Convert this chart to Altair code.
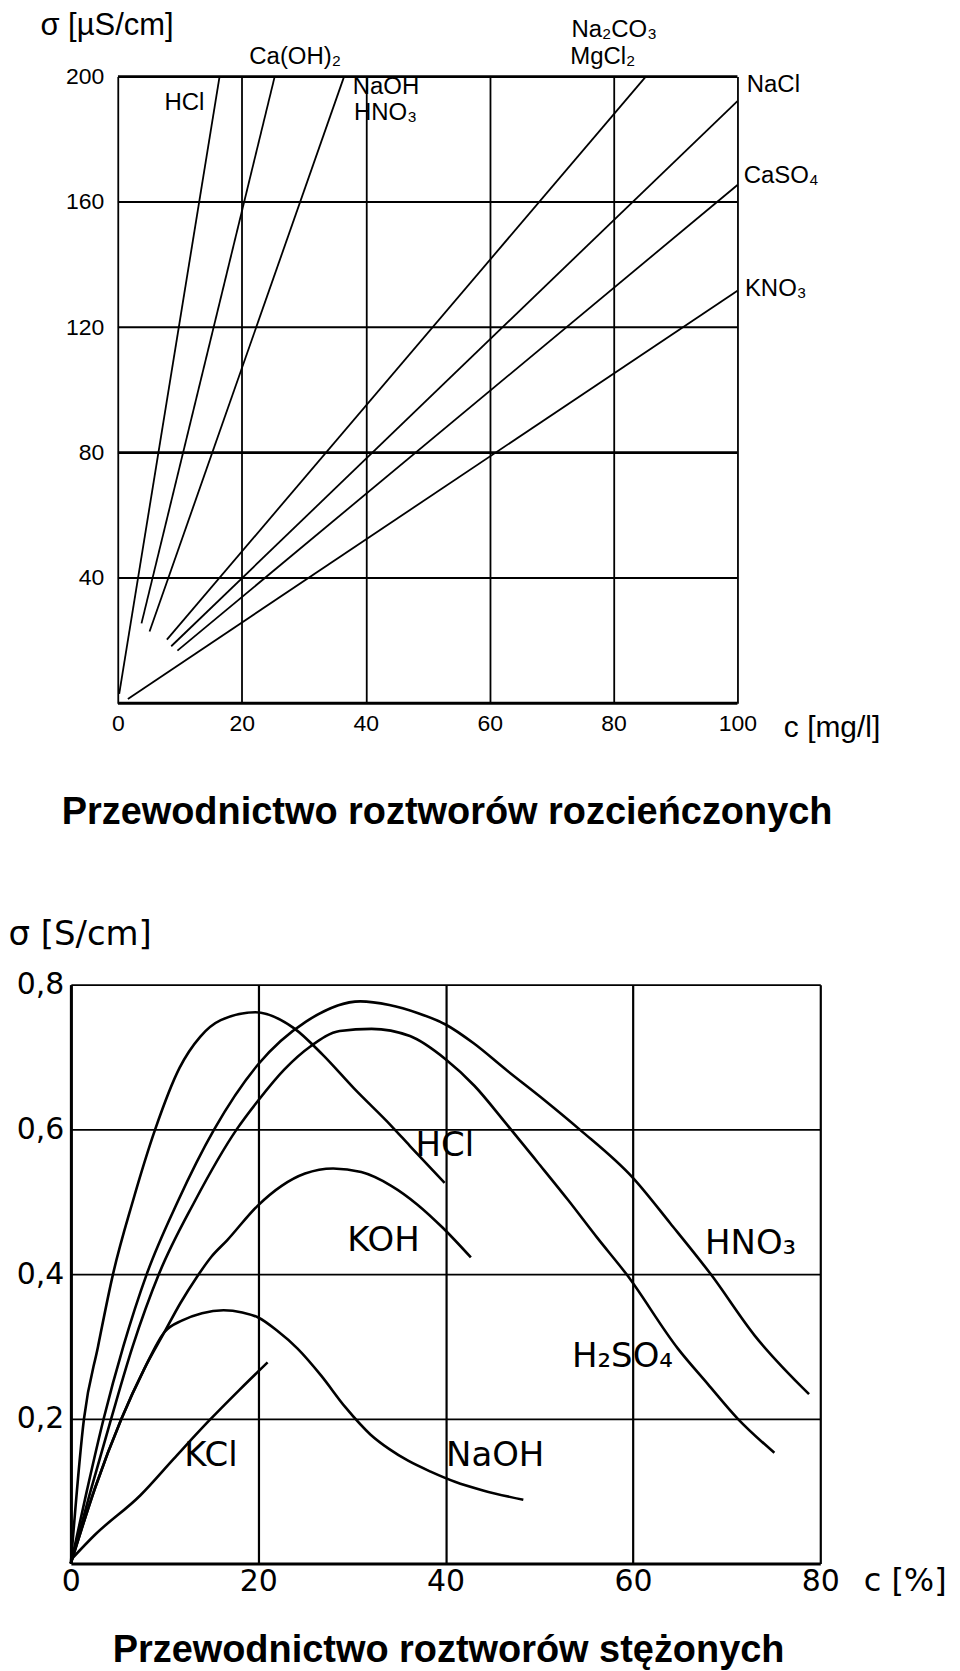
import altair as alt
import pandas as pd

# ---------------- Top chart: dilute solutions (sigma in uS/cm vs c in mg/l) ----------------
dil_names = ["HCl", "Ca(OH)2", "NaOH/HNO3", "Na2CO3/MgCl2", "NaCl", "CaSO4", "KNO3"]
dil_c_start = [0.2, 3.8, 5.1, 7.9, 8.6, 9.6, 1.6]
dil_s_start = [3.0, 25.5, 22.9, 20.3, 18.2, 16.8, 1.4]
dil_c_end = [16.4, 25.3, 36.5, 85.2, 100.0, 100.0, 100.0]
dil_s_end = [200.0, 200.0, 200.0, 200.0, 192.2, 165.4, 131.7]

dil_labels = ["HCl", "Ca(OH)₂", "NaOH", "HNO₃", "Na₂CO₃", "MgCl₂", "NaCl", "CaSO₄", "KNO₃"]
dil_label_c = [7.5, 21.2, 37.9, 38.1, 73.2, 73.0, 101.5, 101.0, 101.2]
dil_label_s = [189.2, 204.1, 194.3, 186.3, 212.7, 203.9, 195.0, 166.0, 130.1]

dil_x_ticks = [0, 20, 40, 60, 80, 100]
dil_y_ticks = [40, 80, 120, 160, 200]
dil_y_lines = [0, 40, 80, 120, 160, 200]

# ---------------- Bottom chart: concentrated solutions (sigma in S/cm vs c in %) ----------------
hcl_c = [0, 1.4, 2.9, 4.5, 6.6, 9.0, 11.6, 13.8, 16.0, 19.7, 23.8, 26.9, 30.2, 34.2, 36.2, 39.9]
hcl_s = [0, 0.2, 0.3, 0.4, 0.5, 0.6, 0.685, 0.728, 0.751, 0.762, 0.740, 0.703, 0.657, 0.605, 0.577, 0.526]

hno3_c = [0, 1.7, 3.5, 5.6, 8.1, 11.4, 15.3, 20.0, 25.1, 30.9, 34.0, 37.0, 40.0, 43.0, 46.4, 50.5, 54.3, 60.0, 64.0, 68.3, 73.0, 78.8]
hno3_s = [0, 0.1, 0.2, 0.3, 0.4, 0.5, 0.6, 0.69, 0.749, 0.777, 0.772, 0.761, 0.745, 0.719, 0.683, 0.641, 0.6, 0.533, 0.47, 0.4, 0.315, 0.234]

h2so4_c = [0, 2.1, 4.3, 6.6, 9.4, 13.2, 17.7, 20.0, 22.8, 25.6, 28.7, 32.1, 36.2, 40.0, 43.1, 46.4, 49.8, 53.1, 56.2, 59.3, 64.8, 68.0, 71.2, 75.1]
h2so4_s = [0, 0.1, 0.2, 0.3, 0.4, 0.5, 0.6, 0.64, 0.683, 0.715, 0.736, 0.739, 0.729, 0.697, 0.66, 0.609, 0.555, 0.502, 0.45, 0.4, 0.297, 0.248, 0.2, 0.153]

koh_c = [0, 2.6, 5.4, 7.8, 10.0, 11.7, 13.4, 15.0, 16.7, 19.9, 22.5, 25.0, 28.0, 31.0, 34.2, 37.0, 39.7, 42.7]
koh_s = [0, 0.105, 0.2, 0.268, 0.32, 0.36, 0.395, 0.424, 0.447, 0.494, 0.522, 0.539, 0.546, 0.541, 0.522, 0.496, 0.464, 0.423]

naoh_c = [0, 2.6, 5.4, 7.8, 10.0, 11.9, 14.0, 16.3, 18.3, 20.0, 22.0, 24.2, 26.7, 29.3, 32.0, 34.0, 36.0, 38.4, 41.0, 44.0, 48.3]
naoh_s = [0, 0.105, 0.2, 0.268, 0.32, 0.336, 0.346, 0.350, 0.347, 0.340, 0.322, 0.297, 0.26, 0.216, 0.178, 0.158, 0.142, 0.127, 0.113, 0.101, 0.088]

kcl_c = [0, 2.6, 7.4, 11.0, 14.8, 18.0, 21.0]
kcl_s = [0.005, 0.04, 0.094, 0.145, 0.198, 0.24, 0.278]

conc_labels = ["HCl", "KOH", "HNO₃", "H₂SO₄", "NaOH", "KCl"]
conc_label_c = [36.8, 29.5, 67.7, 53.5, 40.05, 12.1]
conc_label_s = [0.563, 0.432, 0.428, 0.271, 0.135, 0.135]

conc_x_ticks = [0, 20, 40, 60, 80]
conc_y_ticks = [0.2, 0.4, 0.6, 0.8]

# ---------------- build tables ----------------
rows = []
for n, c0, s0, c1, s1 in zip(dil_names, dil_c_start, dil_s_start, dil_c_end, dil_s_end):
    rows.append({"name": n, "c": c0, "s": s0, "o": 0})
    rows.append({"name": n, "c": c1, "s": s1, "o": 1})
dil_df = pd.DataFrame(rows)
dil_lab_df = pd.DataFrame({"t": dil_labels, "c": dil_label_c, "s": dil_label_s})
dil_grid_df = pd.DataFrame({"s": dil_y_lines})

series = {
    "HCl": (hcl_c, hcl_s),
    "HNO3": (hno3_c, hno3_s),
    "H2SO4": (h2so4_c, h2so4_s),
    "KOH": (koh_c, koh_s),
    "NaOH": (naoh_c, naoh_s),
    "KCl": (kcl_c, kcl_s),
}
rows = []
for n, (cs, ss) in series.items():
    for i, (c, s) in enumerate(zip(cs, ss)):
        rows.append({"name": n, "c": c, "s": s, "o": i})
conc_df = pd.DataFrame(rows)
conc_lab_df = pd.DataFrame({"t": conc_labels, "c": conc_label_c, "s": conc_label_s})

FONT_TOP = "Liberation Sans, Arial, Helvetica, sans-serif"
FONT_BOT = "DejaVu Sans, Verdana, sans-serif"

# ---------------- top chart ----------------
# plot area starts 47 px left of c=0 so that both panels share a left edge in the layout
TOP_SHIFT = 47
x_top = alt.X(
    "c:Q",
    scale=alt.Scale(domain=[-7.6, 100], nice=False, zero=False),
    axis=alt.Axis(
        values=dil_x_ticks, grid=True, gridColor="black", gridWidth=1.8, gridOpacity=1,
        domain=False, ticks=False, labelFlush=False,
        labelFont=FONT_TOP, labelFontSize=23, labelColor="black", labelPadding=9,
        title="c [mg/l]", titleFont=FONT_TOP, titleFontSize=30, titleFontWeight="normal",
        titleColor="black", titleX=714, titleY=33, titleAlign="left", titleBaseline="alphabetic",
    ),
)
y_top = alt.Y(
    "s:Q",
    scale=alt.Scale(domain=[0, 200], nice=False),
    axis=alt.Axis(
        values=dil_y_ticks, grid=False, domain=False, ticks=False, offset=-TOP_SHIFT,
        labelFlush=False,
        labelFont=FONT_TOP, labelFontSize=23, labelColor="black", labelPadding=14,
        title="σ [µS/cm]", titleFont=FONT_TOP, titleFontSize=31, titleFontWeight="normal",
        titleColor="black", titleAngle=0, titleX=-78, titleY=-42, titleAlign="left",
        titleBaseline="alphabetic",
    ),
)

top_grid = alt.Chart(dil_grid_df).mark_rule(color="black").encode(
    y=y_top,
    x=alt.datum(0),
    x2=alt.datum(100),
    strokeWidth=alt.condition(
        "datum.s == 200 || datum.s == 80 || datum.s == 0", alt.value(3), alt.value(2.1)
    ),
)
top_lines = alt.Chart(dil_df).mark_line(color="black", strokeWidth=1.8).encode(
    x=x_top, y=y_top, detail="name:N", order="o:Q"
)
top_text = alt.Chart(dil_lab_df).mark_text(
    align="left", baseline="alphabetic", font=FONT_TOP, fontSize=24, color="black"
).encode(x=x_top, y=y_top, text="t:N")

top = alt.layer(top_lines, top_grid, top_text).properties(
    width=621 + TOP_SHIFT,
    height=628,
    title=alt.TitleParams(
        "Przewodnictwo roztworów rozcieńczonych", orient="bottom", anchor="middle",
        frame="group", font=FONT_TOP, fontSize=38, fontWeight="bold", color="black",
        offset=52, dx=43,
    ),
)

# ---------------- bottom chart ----------------
x_bot = alt.X(
    "c:Q",
    scale=alt.Scale(domain=[0, 80], nice=False, zero=False),
    axis=alt.Axis(
        values=conc_x_ticks, grid=True, gridColor="black", gridWidth=2.2, gridOpacity=1,
        domainColor="black", domainWidth=3, ticks=False, labelFlush=False,
        labelFont=FONT_BOT, labelFontSize=30, labelColor="black", labelPadding=3,
        title="c [%]", titleFont=FONT_BOT, titleFontSize=32, titleFontWeight="normal",
        titleColor="black", titleX=794, titleY=27, titleAlign="left", titleBaseline="alphabetic",
    ),
)
y_bot = alt.Y(
    "s:Q",
    scale=alt.Scale(domain=[0, 0.8], nice=False),
    axis=alt.Axis(
        values=conc_y_ticks, grid=True, gridColor="black", gridWidth=1.8, gridOpacity=1,
        domainColor="black", domainWidth=3, ticks=False, labelFlush=False,
        labelExpr="replace(format(datum.value, '.1f'), '.', ',')",
        labelFont=FONT_BOT, labelFontSize=30, labelColor="black", labelPadding=7,
        title="σ [S/cm]", titleFont=FONT_BOT, titleFontSize=34, titleFontWeight="normal",
        titleColor="black", titleAngle=0, titleX=-63, titleY=-40, titleAlign="left",
        titleBaseline="alphabetic",
    ),
)

bot_lines = alt.Chart(conc_df).mark_line(
    color="black", strokeWidth=2.6, interpolate="monotone"
).encode(x=x_bot, y=y_bot, detail="name:N", order="o:Q")
bot_text = alt.Chart(conc_lab_df).mark_text(
    align="left", baseline="alphabetic", font=FONT_BOT, fontSize=34, color="black"
).encode(x=x_bot, y=y_bot, text="t:N")

bottom = alt.layer(bot_lines, bot_text).properties(
    width=751,
    height=580,
    title=alt.TitleParams(
        "Przewodnictwo roztworów stężonych", orient="bottom", anchor="middle",
        frame="group", font=FONT_TOP, fontSize=38, fontWeight="bold", color="black",
        offset=36, dx=3,
    ),
)

chart = (
    alt.vconcat(top, bottom, spacing=282, bounds="flush")
    .properties(padding={"left": 0, "top": 0, "right": 5, "bottom": 5}, background="white")
    .configure_view(stroke=None)
)

chart.save("out.html", embed_options={"renderer": "svg", "actions": False})
